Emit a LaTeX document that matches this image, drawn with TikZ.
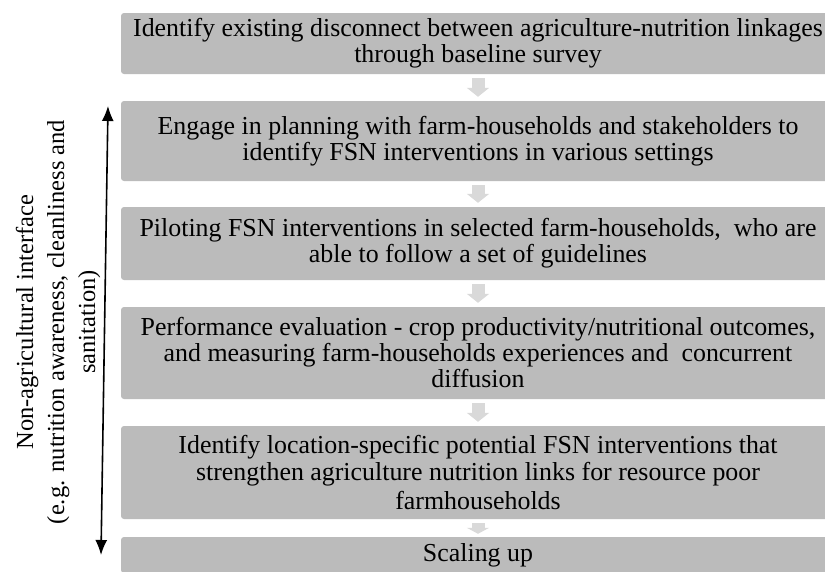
\documentclass[tikz,border=0pt]{standalone}
\usepackage{fontspec}
\setmainfont{Liberation Serif}
\usepackage{tikz}
\usetikzlibrary{arrows.meta}
\definecolor{stagegrey}{HTML}{BBBBBB}
\definecolor{flowgrey}{HTML}{D9D9D9}
\tikzstyle{stage}=[rectangle, fill=stagegrey, rounded corners=3pt, minimum width=714pt, inner sep=0pt, anchor=center, align=center, font=\fontsize{25.9}{26}\selectfont]
\tikzstyle{flow}=[draw=flowgrey, line width=13pt, -{Triangle[length=9pt,width=22pt]}, flowgrey, shorten <=4pt, shorten >=4pt]
\tikzstyle{annot}=[align=center, font=\fontsize{24.5}{31}\selectfont]

\begin{document}
\begin{tikzpicture}[x=1pt, y=-1pt]
	\useasboundingbox (0,0) rectangle (825,571);
	\clip (0,0) rectangle (825,571);

	\node[stage, minimum height=61pt](stage1) at (478,43.5){Identify existing disconnect between agriculture-nutrition linkages\\through baseline survey};
	\node[stage, minimum height=80pt](stage2) at (478,141){Engage in planning with farm-households and stakeholders to\\identify FSN interventions in various settings};
	\node[stage, minimum height=73pt](stage3) at (478,243.5){Piloting FSN interventions in selected farm-households,\ \ who are\\able to follow a set of guidelines};
	\node[stage, minimum height=92pt](stage4) at (478,353){Performance evaluation - crop productivity/nutritional outcomes,\\and measuring farm-households experiences and\ \ concurrent\\diffusion};
	\node[stage, minimum height=93pt](stage5) at (478,472.5){Identify location-specific potential FSN interventions that\\strengthen agriculture nutrition links for resource poor\\[3pt]farmhouseholds};
	\node[stage, minimum height=36pt](stage6) at (478,555){Scaling up};

	\draw[flow] (stage1) -- (stage2);
	\draw[flow] (stage2) -- (stage3);
	\draw[flow] (stage3) -- (stage4);
	\draw[flow] (stage4) -- (stage5);
	\draw[flow, -{Triangle[length=6pt,width=22pt]}, shorten >=3pt] (stage5) -- (stage6);

	\coordinate (spantop) at (108,106);
	\coordinate (spanbot) at (101,555);
	\draw[line width=1.6pt, {Latex[length=15pt,width=12pt]}-{Latex[length=15pt,width=12pt]}] (spanbot) -- (spantop);

	\node[annot, rotate=90](interface) at (58,322){Non-agricultural interface\\(e.g. nutrition awareness, cleanliness and\\sanitation)};
\end{tikzpicture}
\end{document}
